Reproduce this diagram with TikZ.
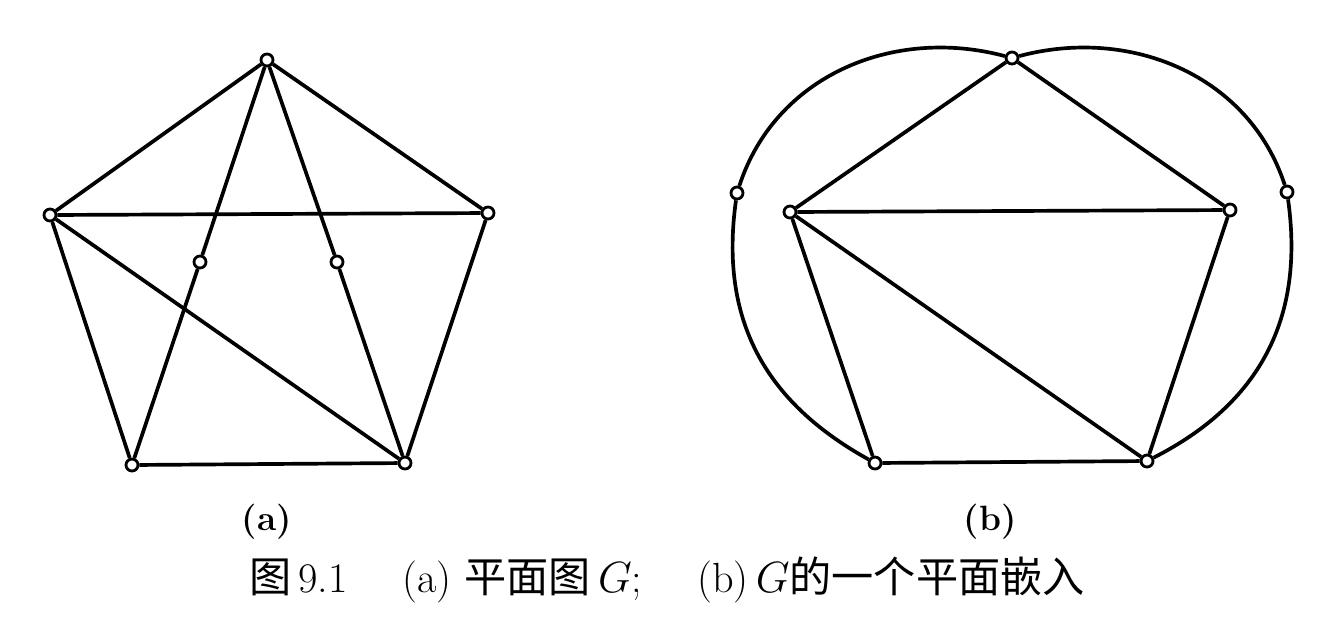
\documentclass[tikz,border=0pt]{standalone}
\usepackage{amssymb}
\usepackage{pgf, tikz}
\usepackage{xcolor}
\usepackage{fontspec}
\newfontfamily\cjk{Noto Sans CJK SC}
\tikzset{v/.style={circle,draw,fill=white,line width=1.6pt,inner sep=0pt,minimum size=0.24cm}}
\begin{document}
\begin{tikzpicture}[line width=2.1pt]
\useasboundingbox (0,0) rectangle (26.8,-12.6);

% (a)
\node[v](1) at(5.34,-1.2){};
\node[v](2) at(1.0,-4.3){};
\node[v](3) at(9.76,-4.26){};
\node[v](4) at(2.64,-9.3){};
\node[v](5) at(8.1,-9.26){};
\node[v](6) at(4.0,-5.24){};
\node[v](7) at(6.74,-5.24){};
% (b)
\node[v](11) at(20.24,-1.16){};
\node[v](12) at(15.8,-4.24){};
\node[v](13) at(24.6,-4.2){};
\node[v](14) at(17.5,-9.26){};
\node[v](15) at(22.94,-9.22){};
\node[v](16) at(14.74,-3.86){};
\node[v](17) at(25.74,-3.84){};

\draw [-,>=latex,](1)--(2);
\draw [-,>=latex,](1)--(3);
\draw [-,>=latex,](2)--(3);
\draw [-,>=latex,](2)--(4);
\draw [-,>=latex,](3)--(5);
\draw [-,>=latex,](4)--(5);
\draw [-,>=latex,](2)--(5);
\draw [-,>=latex,](1)--(6);
\draw [-,>=latex,](6)--(4);
\draw [-,>=latex,](1)--(7);
\draw [-,>=latex,](7)--(5);

\draw [-,>=latex,](11)--(12);
\draw [-,>=latex,](11)--(13);
\draw [-,>=latex,](12)--(13);
\draw [-,>=latex,](12)--(14);
\draw [-,>=latex,](13)--(15);
\draw [-,>=latex,](14)--(15);
\draw [-,>=latex,](12)--(15);
\draw [-,>=latex,](11) to[out=165,in=72] (16);
\draw [-,>=latex,](16) to[out=-98,in=151,looseness=1.05] (14);
\draw [-,>=latex,](11) to[out=15,in=108] (17);
\draw [-,>=latex,](17) to[out=-82,in=27,looseness=1.05] (15);

\node(a) at(5.34,-10.44){\fontsize{20}{22}\selectfont\bfseries (a)};
\node(b) at(19.8,-10.44){\fontsize{20}{22}\selectfont\bfseries (b)};
\node(c) at(13.34,-11.6){\fontsize{24}{28}\selectfont{\cjk 图}\,9.1\quad\ (a)\ {\cjk 平面图}\,$G$;\quad\ (b)\,$G${\cjk 的一个平面嵌入}};
\end{tikzpicture}
\end{document}
